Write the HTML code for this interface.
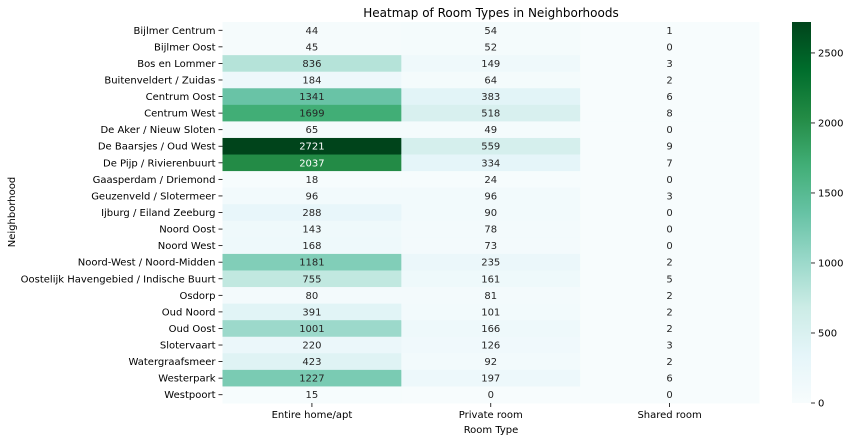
<!DOCTYPE html>
<html><head><meta charset="utf-8"><style>
body{margin:0;background:#fff;}
svg text{font-family:"DejaVu Sans","Liberation Sans",sans-serif;}
</style></head><body>
<svg id="chart" width="850" height="441" viewBox="0 0 850 441" xmlns="http://www.w3.org/2000/svg">
<text x="491" y="17" font-size="12" text-anchor="middle" fill="#000">Heatmap of Room Types in Neighborhoods</text>
<text x="491" y="433" font-size="10" text-anchor="middle" fill="#000">Room Type</text>
<text x="15" y="212" font-size="10" text-anchor="middle" fill="#000" transform="rotate(-90 15 212)">Neighborhood</text>
<g id="cells"></g><g id="ylabels"></g><g id="xlabels"></g><g id="cbar"></g>
</svg>
<script>
const neighborhoods=["Bijlmer Centrum","Bijlmer Oost","Bos en Lommer","Buitenveldert / Zuidas","Centrum Oost","Centrum West","De Aker / Nieuw Sloten","De Baarsjes / Oud West","De Pijp / Rivierenbuurt","Gaasperdam / Driemond","Geuzenveld / Slotermeer","Ijburg / Eiland Zeeburg","Noord Oost","Noord West","Noord-West / Noord-Midden","Oostelijk Havengebied / Indische Buurt","Osdorp","Oud Noord","Oud Oost","Slotervaart","Watergraafsmeer","Westerpark","Westpoort"];
const roomTypes=["Entire home/apt","Private room","Shared room"];
const entireHome=[44,45,836,184,1341,1699,65,2721,2037,18,96,288,143,168,1181,755,80,391,1001,220,423,1227,15];
const privateRoom=[54,52,149,64,383,518,49,559,334,24,96,90,78,73,235,161,81,101,166,126,92,197,0];
const sharedRoom=[1,0,3,2,6,8,0,9,7,0,3,0,0,0,2,5,2,2,2,3,2,6,0];
const cbarTicks=[0,500,1000,1500,2000,2500];
const series=[entireHome,privateRoom,sharedRoom];
const NS="http://www.w3.org/2000/svg";
const L=222.5,R=759,T=22,B=403;
const vmax=Math.max(...entireHome,...privateRoom,...sharedRoom);
const cw=(R-L)/roomTypes.length, rh=(B-T)/neighborhoods.length;
const xPos=i=>L+i*cw, yPos=j=>T+j*rh;
const stops=["#f7fcfd","#e5f5f9","#ccece6","#99d8c9","#66c2a4","#41ae76","#238b45","#006d2c","#00441b"].map(h=>[1,3,5].map(k=>parseInt(h.substr(k,2),16)));
function cmap(v){let t=Math.max(0,Math.min(1,v/vmax))*(stops.length-1);let i=Math.min(Math.floor(t),stops.length-2),f=t-i;return stops[i].map((c,k)=>Math.round(c+(stops[i+1][k]-c)*f));}
function mk(tag,attrs,parent){const e=document.createElementNS(NS,tag);for(const k in attrs)e.setAttribute(k,attrs[k]);parent.appendChild(e);return e;}
const cells=document.getElementById('cells');
series.forEach((s,i)=>s.forEach((v,j)=>{
 const c=cmap(v);
 const r=mk('rect',{x:xPos(i),y:yPos(j),width:cw+0.5,height:rh+0.5,fill:`rgb(${c})`},cells);
 
 
 const lum=(0.2126*c[0]+0.7152*c[1]+0.0722*c[2])/255;
 const t=mk('text',{x:xPos(i)+cw/2,y:yPos(j)+rh/2+3.5,'font-size':10,'text-anchor':'middle',fill:lum<0.45?'#fff':'#262626'},cells);
 
 
 t.textContent=v;
}));
const yl=document.getElementById('ylabels');
neighborhoods.forEach((n,j)=>{
 const y=yPos(j)+rh/2;
 mk('line',{x1:L-4,x2:L,y1:y,y2:y,stroke:'#000','stroke-width':0.8},yl);
 const t=mk('text',{x:L-7,y:y+3.5,'font-size':10,'text-anchor':'end',fill:'#000'},yl);
 
 
 t.textContent=n;
});
const xl=document.getElementById('xlabels');
roomTypes.forEach((n,i)=>{
 const x=xPos(i)+cw/2;
 mk('line',{x1:x,x2:x,y1:B,y2:B+4,stroke:'#000','stroke-width':0.8},xl);
 const t=mk('text',{x:x,y:B+15,'font-size':10,'text-anchor':'middle',fill:'#000'},xl);
 
 
 t.textContent=n;
});
const cb=document.getElementById('cbar');
const CX=792,CW=19,cy=v=>B-(B-T)*v/vmax;
const defs=mk('defs',{},cb);
const g=mk('linearGradient',{id:'grad',x1:0,y1:1,x2:0,y2:0},defs);
stops.forEach((c,k)=>mk('stop',{offset:k/(stops.length-1),'stop-color':`rgb(${c})`},g));
const bar=mk('rect',{x:CX,y:T,width:CW,height:B-T,fill:'url(#grad)'},cb);


cbarTicks.forEach(v=>{
 const y=cy(v);
 mk('line',{x1:CX+CW,x2:CX+CW+4,y1:y,y2:y,stroke:'#000','stroke-width':0.8},cb);
 const t=mk('text',{x:CX+CW+7,y:y+3.5,'font-size':10,fill:'#000'},cb);
 
 
 t.textContent=v;
});
</script>
</body></html>
